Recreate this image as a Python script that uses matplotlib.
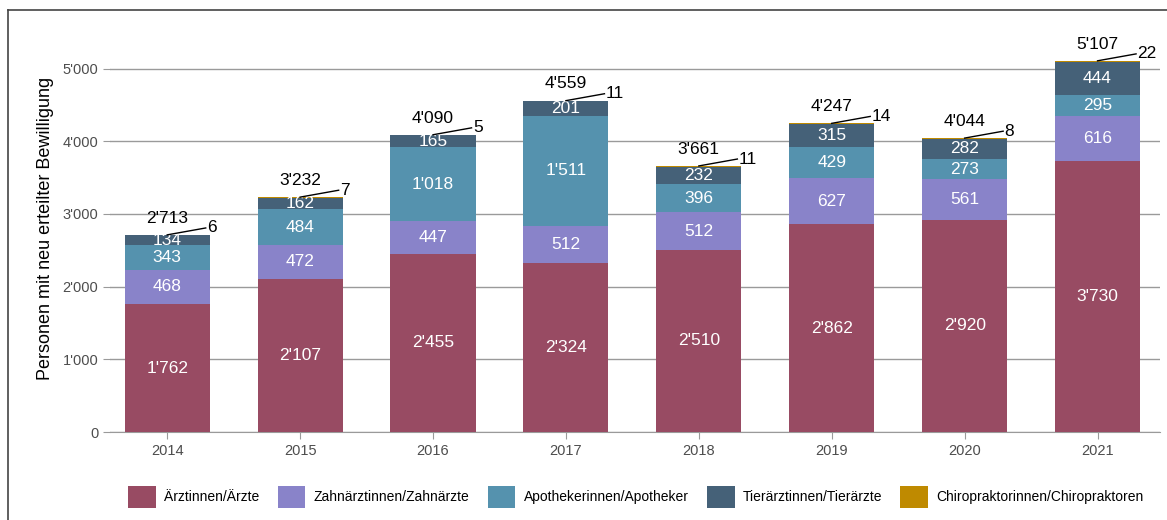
import numpy as np
import matplotlib
matplotlib.use("Agg")
import matplotlib.pyplot as plt
from matplotlib.lines import Line2D

plt.rcParams['font.family'] = ['Liberation Sans', 'DejaVu Sans']

years = ["2014", "2015", "2016", "2017", "2018", "2019", "2020", "2021"]
categories = ["Ärztinnen/Ärzte", "Zahnärztinnen/Zahnärzte", "Apothekerinnen/Apotheker",
              "Tierärztinnen/Tierärzte", "Chiropraktorinnen/Chiropraktoren"]
aerzte = [1762, 2107, 2455, 2324, 2510, 2862, 2920, 3730]
zahnaerzte = [468, 472, 447, 512, 512, 627, 561, 616]
apotheker = [343, 484, 1018, 1511, 396, 429, 273, 295]
tieraerzte = [134, 162, 165, 201, 232, 315, 282, 444]
chiro = [6, 7, 5, 11, 11, 14, 8, 22]
colors = ["#984B63", "#8983C9", "#5592AE", "#456178", "#BF8A00"]


def fmt(v):
    return f"{int(v):,}".replace(",", "'")


series = [aerzte, zahnaerzte, apotheker, tieraerzte, chiro]
x = np.arange(len(years))

fig = plt.figure(figsize=(11.67, 5.2), dpi=100)
ax = fig.add_axes([0.0943, 0.169, 0.8997, 0.783])

bottom = np.zeros(len(years))
for k, (vals, col, name) in enumerate(zip(series, colors, categories)):
    vals = np.array(vals, dtype=float)
    ax.bar(x, vals, 0.64, bottom=bottom, color=col, label=name, zorder=3)
    if k < 4:
        for xi, b, v in zip(x, bottom, vals):
            ax.text(xi, b + v / 2, fmt(v), ha="center", va="center",
                    color="white", fontsize=12.5, zorder=4)
    bottom += vals

totals = bottom
for xi, t, c in zip(x, totals, chiro):
    ax.text(xi, t + 230, fmt(t), ha="center", va="center", fontsize=12.5, zorder=4)
    ax.plot([xi, xi + 0.29], [t, t + 95], color="black", lw=1, zorder=4)
    ax.text(xi + 0.3, t + 95, fmt(c), ha="left", va="center", fontsize=12.5, zorder=4)

ax.set_xlim(-0.43, 7.47)
ax.set_ylim(0, 5600)
ax.set_yticks([0, 1000, 2000, 3000, 4000, 5000])
ax.set_yticklabels([fmt(v) for v in [0, 1000, 2000, 3000, 4000, 5000]])
ax.set_xticks(x)
ax.set_xticklabels(years)
ax.yaxis.grid(True, color="#9a9a9a", lw=1, zorder=0)
ax.tick_params(axis="both", colors="#9a9a9a", labelcolor="#4d4d4d", labelsize=10.5, length=5)
for s in ["top", "right", "left"]:
    ax.spines[s].set_visible(False)
ax.spines["bottom"].set_color("#9a9a9a")
ax.set_ylabel("Personen mit neu erteilter Bewilligung", fontsize=13, labelpad=6)

fig.legend(loc="lower center", bbox_to_anchor=(0.545, 0.0), ncol=5, frameon=False,
           fontsize=10, handlelength=2.0, handleheight=2.0, columnspacing=1.3,
           handletextpad=0.6)

fig.add_artist(Line2D([0.007, 0.007], [0.0, 0.981], color="#444444", lw=1.2))
fig.add_artist(Line2D([0.007, 1.0], [0.981, 0.981], color="#444444", lw=1.2))

fig.savefig("out.png", dpi=100)
